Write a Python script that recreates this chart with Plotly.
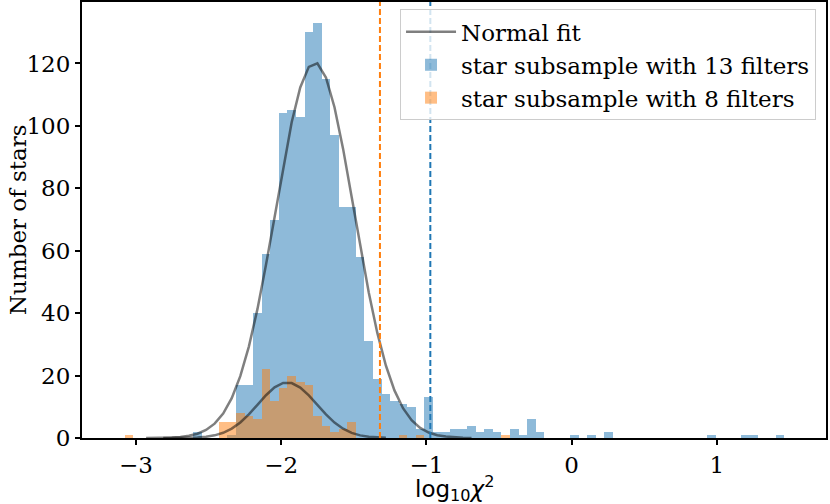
import plotly.graph_objects as go

# common bin grid of both histograms (log10 chi2)
bin_start = -3.137
bin_width = 0.05898

# counts per bin, star subsample with 13 filters
counts_13 = [
    0, 0, 0, 0, 0, 0, 0, 0, 0, 2,
    0, 0, 0, 1, 17, 17, 40, 59, 70, 104,
    105, 103, 130, 133, 115, 97, 74, 74, 58, 31,
    19, 14, 12, 11, 10, 3, 13, 2, 2, 3,
    3, 4, 2, 3, 2, 0, 3, 1, 6, 2,
    0, 0, 0, 1, 0, 1, 0, 2, 0, 0,
    0, 0, 0, 0, 0, 0, 0, 0, 0, 1,
    0, 0, 0, 1, 1, 0, 0, 1, 0,
]

# counts per bin, star subsample with 8 filters
counts_8 = [
    0, 1, 0, 0, 0, 0, 0, 0, 0, 0,
    0, 0, 5, 5, 8, 7, 6, 22, 12, 16,
    20, 18, 17, 7, 4, 2, 3, 5, 0, 0,
    0, 0, 0, 1, 0, 1, 0, 0, 0, 0,
    0, 0, 0, 0, 0, 1, 0, 0, 0, 0,
    0, 0, 0, 0, 0, 0, 0, 0, 0, 0,
    0, 0, 0, 0, 0, 0, 0, 0, 0, 0,
    0, 0, 0, 0, 0, 0, 0, 0, 0,
]

# normal fit curves, read at the bin centres
fit_13_first_bin = 3
fit_13 = [0.01, 0.03, 0.07, 0.16, 0.34, 0.70, 1.37, 2.57, 4.60, 7.85,
          12.77, 19.80, 29.28, 41.29, 55.48, 71.10, 86.83, 101.15, 112.33, 118.92,
          120.03, 115.51, 105.98, 92.71, 77.32, 61.48, 46.61, 33.68, 23.22, 15.25,
          9.55, 5.70, 3.25, 1.76, 0.91, 0.45, 0.21, 0.10, 0.04]
fit_8_first_bin = 5
fit_8 = [0.00, 0.01, 0.03, 0.07, 0.17, 0.40, 0.85, 1.67, 3.01, 4.98,
         7.60, 10.64, 13.70, 16.21, 17.62, 17.61, 16.17, 13.65, 10.59, 7.55,
         4.94, 2.98, 1.65, 0.84, 0.39, 0.17, 0.07]

# cut values (dashed lines)
cut_13 = -0.973
cut_8 = -1.32

xticks = [-3, -2, -1, 0, 1]
yticks = [0, 20, 40, 60, 80, 100, 120]

centres = [bin_start + bin_width * (i + 0.5) for i in range(len(counts_13))]

BLUE = "#1f77b4"
ORANGE = "#ff7f0e"
FIT = "rgba(0,0,0,0.5)"
SERIF = "DejaVu Serif"
FS = 23

fig = go.Figure()
fig.add_trace(go.Bar(x=centres, y=counts_13, width=bin_width,
                     marker=dict(color=BLUE, line_width=0), opacity=0.5,
                     name="star subsample with 13 filters", legendrank=2))
fig.add_trace(go.Bar(x=centres, y=counts_8, width=bin_width,
                     marker=dict(color=ORANGE, line_width=0), opacity=0.5,
                     name="star subsample with 8 filters", legendrank=3))
fig.add_trace(go.Scatter(x=centres[fit_13_first_bin:fit_13_first_bin + len(fit_13)], y=fit_13,
                         mode="lines", line=dict(color=FIT, width=2.5),
                         name="Normal fit", legendrank=1))
fig.add_trace(go.Scatter(x=centres[fit_8_first_bin:fit_8_first_bin + len(fit_8)], y=fit_8,
                         mode="lines", line=dict(color=FIT, width=2.5),
                         name="Normal fit", showlegend=False))

fig.add_vline(x=cut_8, line=dict(color=ORANGE, width=2, dash="6px,3px"))
fig.add_vline(x=cut_13, line=dict(color=BLUE, width=2, dash="6px,3px"))

axis_style = dict(ticks="outside", ticklen=5, tickwidth=1.5, tickcolor="black",
                  showline=True, linewidth=2, linecolor="black", mirror=True,
                  showgrid=False, zeroline=False,
                  tickfont=dict(family=SERIF, size=FS, color="black"))
fig.update_xaxes(range=[-3.372, 1.752], tickvals=xticks, **axis_style)
fig.update_yaxes(range=[0, 139.7], tickvals=yticks, **axis_style)

# axis titles as annotations so they sit where the reference has them
fig.add_annotation(text="log<sub>10</sub><i>χ</i><sup>2</sup>", xref="paper", yref="paper",
                   x=0.5, y=-0.073, xanchor="center", yanchor="top", showarrow=False,
                   font=dict(family="DejaVu Sans", size=FS, color="black"))
fig.add_annotation(text="Number of stars", xref="paper", yref="paper",
                   x=-0.086, y=0.5, xanchor="center", yanchor="middle", showarrow=False,
                   textangle=-90, font=dict(family=SERIF, size=FS, color="black"))

fig.update_layout(
    template="none",
    width=830, height=504,
    margin=dict(l=82, r=4, t=2, b=66),
    paper_bgcolor="white", plot_bgcolor="white",
    barmode="overlay", bargap=0,
    font=dict(family=SERIF, size=FS, color="black"),
    showlegend=True,
    legend=dict(x=0.9866, y=0.983, xanchor="right", yanchor="top", itemwidth=50,
                bgcolor="rgba(255,255,255,0.8)", bordercolor="#cccccc", borderwidth=1,
                font=dict(family=SERIF, size=FS, color="black")),
)

# page body has a default 8px margin; drop it so the figure fills the window
fig.write_html("out.html", config={"displayModeBar": False},
               post_script="document.body.style.margin='0';")
